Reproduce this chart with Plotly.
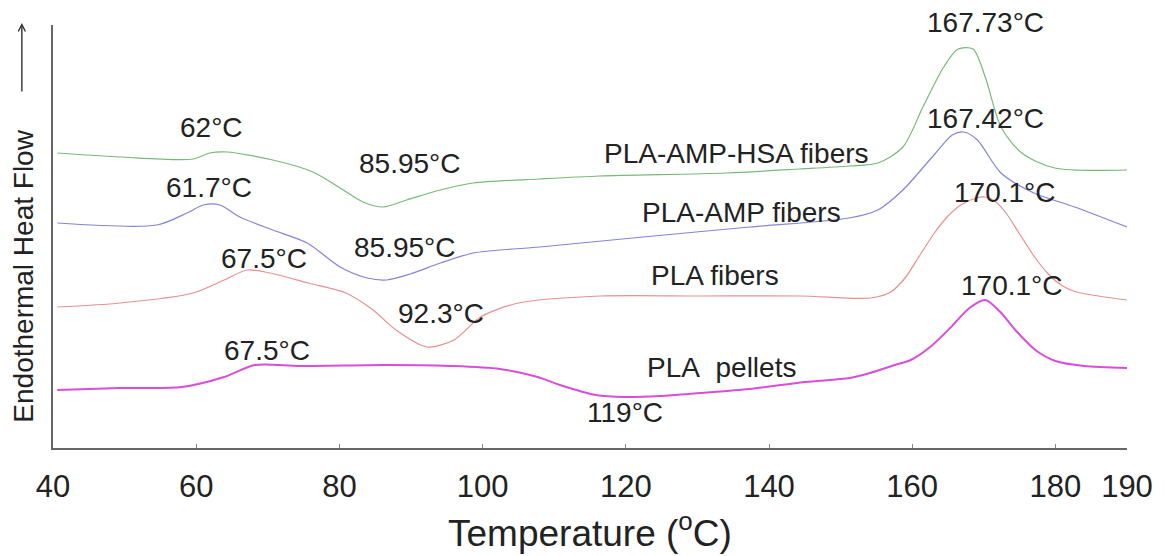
import plotly.graph_objects as go

# Temperatures (°C) and heat flow (arbitrary units)
t_hsa = [40.6, 49.4, 59.6, 61.9, 64.3, 70.7, 76.3, 80.1, 83.3, 86.1, 89.4, 94.1, 98.7, 108.0,
         116.4, 134.0, 144.3, 151.2, 155.2, 158.7, 161.5, 164.4, 166.4, 168.5, 170.2, 172.4,
         175.3, 179.9, 190.0]
hf_hsa = [295, 291, 289, 295, 296, 288, 276, 260, 246, 241, 248, 258, 265, 269,
          272, 275, 279, 282, 285, 301, 341, 381, 399, 399, 371, 321,
          295, 280, 278]

t_amp = [40.6, 54.5, 58.7, 61.0, 63.3, 66.1, 70.7, 75.5, 80.1, 83.9, 86.6, 89.9, 94.1, 98.7,
         108.0, 122.4, 137.3, 151.2, 155.2, 158.7, 162.8, 165.6, 167.2, 169.1, 172.4, 177.0,
         182.7, 190.0]
hf_amp = [225, 223, 235, 243, 243, 231, 218, 205, 181, 170, 168, 174, 185, 195,
          201, 211, 221, 230, 238, 258, 291, 313, 316, 308, 275, 255,
          241, 221]

t_fib = [40.6, 49.4, 59.6, 63.9, 67.1, 70.3, 75.6, 80.9, 84.7, 87.9, 92.2, 96.0, 99.7, 105.0,
         116.4, 130.4, 144.3, 154.2, 157.0, 159.0, 161.0, 163.0, 165.0, 167.0, 169.0, 170.2,
         171.5, 173.0, 175.0, 177.0, 179.0, 181.0, 183.0, 186.0, 190.0]
hf_fib = [141, 145, 155, 168, 178, 175, 165, 155, 138, 118, 101, 108, 131, 145,
          152, 152, 152, 150, 156, 170, 192, 214, 232, 244, 250, 251,
          247, 236, 214, 192, 174, 162, 156, 152, 148]

t_pel = [40.6, 49.4, 58.0, 63.9, 68.2, 74.5, 86.4, 95.4, 102.4, 107.7, 110.8, 115.8, 119.9,
         124.8, 130.4, 137.3, 145.0, 151.3, 154.1, 157.6, 159.8, 162.5, 165.3, 168.0, 170.2,
         172.3, 174.4, 177.2, 180.0, 184.0, 190.0]
hf_pel = [58, 60, 61, 71, 83, 82, 83, 82, 79, 71, 63, 53, 51,
          52, 55, 59, 66, 70, 75, 83, 88, 101, 120, 140, 148,
          136, 118, 98, 87, 82, 80]

series_names = ["PLA-AMP-HSA fibers", "PLA-AMP fibers", "PLA fibers", "PLA  pellets"]
series_colors = ["#79b879", "#8383da", "#e69090", "#d94ed9"]
series_widths = [1.2, 1.2, 1.2, 2.0]

x_ticks = [40, 60, 80, 100, 120, 140, 160, 180, 190]

# Peak / transition labels: text, temperature, heat-flow position
peak_text = ["167.73°C", "167.42°C", "170.1°C", "170.1°C", "62°C", "85.95°C", "61.7°C",
             "85.95°C", "67.5°C", "92.3°C", "67.5°C", "119°C"]
peak_t = [170.2, 170.2, 173.0, 173.9, 62.2, 89.9, 61.8, 89.2, 69.5, 94.2, 69.9, 119.9]
peak_v = [423, 330, 256, 163, 321, 285, 261, 201, 190, 135, 98, 36]
peak_shift = [3, 0, 0, 0, 0, 0, 0, 0, 0, 0, 0, 0]

name_t = [135.5, 136.2, 132.5, 133.3]
name_v = [295, 236, 173, 81]

FONT = "Liberation Sans, Arial, Helvetica, sans-serif"

fig = go.Figure()
for t, hf, nm, col, w in zip([t_hsa, t_amp, t_fib, t_pel], [hf_hsa, hf_amp, hf_fib, hf_pel],
                             series_names, series_colors, series_widths):
    fig.add_trace(go.Scatter(x=t, y=hf, mode="lines", name=nm,
                             line=dict(color=col, width=w, shape="spline", smoothing=0.8),
                             showlegend=False))

annotations = []
for txt, xt, yv, ys in zip(peak_text, peak_t, peak_v, peak_shift):
    annotations.append(dict(x=xt, y=yv, xref="x", yref="y", text=txt, showarrow=False,
                            yshift=ys,
                            font=dict(family=FONT, size=28, color="#222222")))
for txt, xt, yv in zip(series_names, name_t, name_v):
    annotations.append(dict(x=xt, y=yv, xref="x", yref="y", text=txt.replace("  ", "&nbsp; "),
                            showarrow=False,
                            font=dict(family=FONT, size=28, color="#222222")))

# axis titles
annotations.append(dict(x=0.5, y=-0.194, xref="paper", yref="paper",
                        text="Temperature (<sup>o</sup>C)", showarrow=False,
                        xanchor="center", yanchor="middle",
                        font=dict(family=FONT, size=37, color="#222222")))
annotations.append(dict(x=-0.0270, y=0.405, xref="paper", yref="paper",
                        text="Endothermal Heat Flow", showarrow=False, textangle=-90,
                        xanchor="center", yanchor="middle",
                        font=dict(family=FONT, size=28, color="#222222")))
annotations.append(dict(x=-0.029, y=1.005, xref="paper", yref="paper",
                        ax=0, ay=77, axref="pixel", ayref="pixel",
                        text=" ", showarrow=True, arrowhead=5, arrowsize=1.0,
                        arrowwidth=1.4, arrowcolor="#333333", standoff=0))

# the page body adds an 8px offset, so the figure is drawn 8px smaller
fig.update_layout(
    width=1157, height=548,
    margin=dict(l=45, r=38, t=17, b=108),
    paper_bgcolor="white", plot_bgcolor="white",
    annotations=annotations,
    font=dict(family=FONT, color="#222222"),
)
fig.update_xaxes(range=[40, 190], tickvals=x_ticks, ticktext=[str(v) for v in x_ticks],
                 showline=True, linecolor="#666666", linewidth=2,
                 ticks="inside", ticklen=4, tickcolor="#888888", tickwidth=1,
                 showgrid=False, zeroline=False, ticklabelstandoff=10,
                 tickfont=dict(family=FONT, size=31, color="#222222"))
fig.update_yaxes(range=[0, 423], showline=True, linecolor="#666666", linewidth=2,
                 showticklabels=False, ticks="", showgrid=False, zeroline=False)

fig.write_html("out.html")
